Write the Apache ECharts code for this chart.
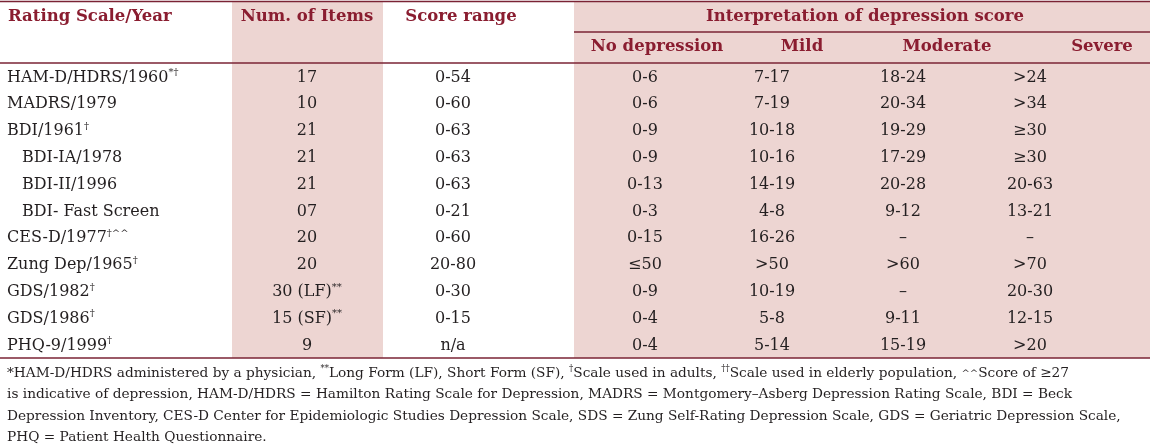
<!DOCTYPE html>
<html><head><meta charset="utf-8">
<script src="https://cdn.jsdelivr.net/npm/echarts@6/dist/echarts.min.js"></script>
<style>html,body{margin:0;padding:0;background:#fff}#c{width:1150px;height:447px}</style>
</head><body><div id="c"></div>
<script>
// ---- data ----
const scaleNames = ['HAM-D/HDRS/1960','MADRS/1979','BDI/1961','BDI-IA/1978','BDI-II/1996','BDI- Fast Screen','CES-D/1977','Zung Dep/1965','GDS/1982','GDS/1986','PHQ-9/1999'];
const scaleNotes = ['*†','','†','','','','†^^','†','†','†','†'];
const scaleIndent = [0,0,0,1,1,1,0,0,0,0,0];
const numItems = ['17','10','21','21','21','07','20','20','30 (LF)','15 (SF)','9'];
const numItemNotes = ['','','','','','','','','**','**',''];
const scoreRange = ['0-54','0-60','0-63','0-63','0-63','0-21','0-60','20-80','0-30','0-15','n/a'];
const noDepression = ['0-6','0-6','0-9','0-9','0-13','0-3','0-15','≤50','0-9','0-4','0-4'];
const mild = ['7-17','7-19','10-18','10-16','14-19','4-8','16-26','>50','10-19','5-8','5-14'];
const moderate = ['18-24','20-34','19-29','17-29','20-28','9-12','–','>60','–','9-11','15-19'];
const severe = ['>24','>34','≥30','≥30','20-63','13-21','–','>70','20-30','12-15','>20'];
const headerTop = ['Rating Scale/Year','Num. of Items','Score range','Interpretation of depression score'];
const headerSub = ['No depression','Mild','Moderate','Severe'];
const footLines = [
  '*HAM-D/HDRS administered by a physician, {s|**}Long Form (LF), Short Form (SF), {s|†}Scale used in adults, {s|††}Scale used in elderly population, {c|^^}Score of ≥27',
  'is indicative of depression, HAM-D/HDRS = Hamilton Rating Scale for Depression, MADRS = Montgomery–Asberg Depression Rating Scale, BDI = Beck',
  'Depression Inventory, CES-D Center for Epidemiologic Studies Depression Scale, SDS = Zung Self-Rating Depression Scale, GDS = Geriatric Depression Scale,',
  'PHQ = Patient Health Questionnaire.'
];

// ---- layout / style ----
const FONT = '"DejaVu Serif", "Liberation Serif", serif';
const BODY = 16, HEAD = 16.5, FOOT = 13.7;
const TXT = '#231f20', RED = '#8a1d30', LINE = '#7a2334', PINK = '#edd5d2';
const colX = {items: 307, score: 453, nodep: 645, mild: 772, mod: 903, sev: 1030};
const gridTop = 63, gridBottom = 358;

const chart = echarts.init(document.getElementById('c'), null, {renderer: 'canvas'});

function renderItem(params, api) {
  const i = api.value(0);
  const children = [];
  const yc = api.coord([0, i])[1] + 1;
  const sup = {s: {fontSize: 10, fontFamily: FONT, verticalAlign: 'top', fill: TXT, lineHeight: 20}};
  const name = scaleNames[i] + (scaleNotes[i] ? '{s|' + scaleNotes[i] + '}' : '');
  children.push({type: 'text', style: {text: name, x: 7 + scaleIndent[i] * 15, y: yc, align: 'left', verticalAlign: 'middle',
    fontSize: BODY, fontFamily: FONT, fill: TXT, rich: sup, lineHeight: 20}});
  const cells = [
    [colX.items, numItems[i] + (numItemNotes[i] ? '{s|' + numItemNotes[i] + '}' : '')],
    [colX.score, scoreRange[i]], [colX.nodep, noDepression[i]], [colX.mild, mild[i]],
    [colX.mod, moderate[i]], [colX.sev, severe[i]]
  ];
  cells.forEach(function (c) {
    const p = api.coord([c[0], i]);
    children.push({type: 'text', style: {text: c[1], x: p[0], y: yc, align: 'center', verticalAlign: 'middle',
      fontSize: BODY, fontFamily: FONT, fill: TXT, rich: sup, lineHeight: 20}});
  });
  return {type: 'group', children: children};
}

const graphics = [];
// pink bands
graphics.push({type: 'rect', shape: {x: 232, y: 1, width: 151, height: gridBottom - 1}, style: {fill: PINK}, z: -10});
graphics.push({type: 'rect', shape: {x: 574, y: 1, width: 576, height: gridBottom - 1}, style: {fill: PINK}, z: -10});
// lines
const hl = (x1, x2, y) => ({type: 'line', shape: {x1: x1, y1: y, x2: x2, y2: y}, style: {stroke: LINE, lineWidth: 1.5}, z: 10});
graphics.push(hl(0, 1150, 1.5), hl(574, 1150, 32), hl(0, 1150, gridTop), hl(0, 1150, gridBottom));
// headers
const hs = (t, x, y, align) => ({type: 'text', style: {text: t, x: x, y: y, align: align, verticalAlign: 'middle',
  font: 'bold ' + HEAD + 'px ' + FONT, fill: RED}, z: 10});
graphics.push(hs(headerTop[0], 8, 17, 'left'), hs(headerTop[1], 307, 17, 'center'), hs(headerTop[2], 461, 17, 'center'), hs(headerTop[3], 865, 17, 'center'));
[657, 802, 947, 1102].forEach((x, k) => graphics.push(hs(headerSub[k], x, 47, 'center')));
// footnotes
[373, 394, 416, 437].forEach((y, k) => graphics.push({type: 'text', style: {text: footLines[k], x: 7, y: y, align: 'left', verticalAlign: 'middle',
  fontSize: FOOT, fontFamily: FONT, fill: TXT, lineHeight: 18,
  rich: {s: {fontSize: 8.5, fontFamily: FONT, verticalAlign: 'top', fill: TXT, lineHeight: 18},
         c: {fontSize: 10, fontFamily: FONT, fill: TXT, lineHeight: 18}}}, z: 10}));

chart.setOption({
  animation: false,
  grid: {left: 0, right: 0, top: gridTop, bottom: 447 - gridBottom},
  xAxis: {type: 'value', min: 0, max: 1150, show: false},
  yAxis: {type: 'category', data: scaleNames, inverse: true, show: false},
  series: [{type: 'custom', renderItem: renderItem, data: scaleNames.map((n, i) => [i]), clip: false}],
  graphic: graphics
});
</script></body></html>
